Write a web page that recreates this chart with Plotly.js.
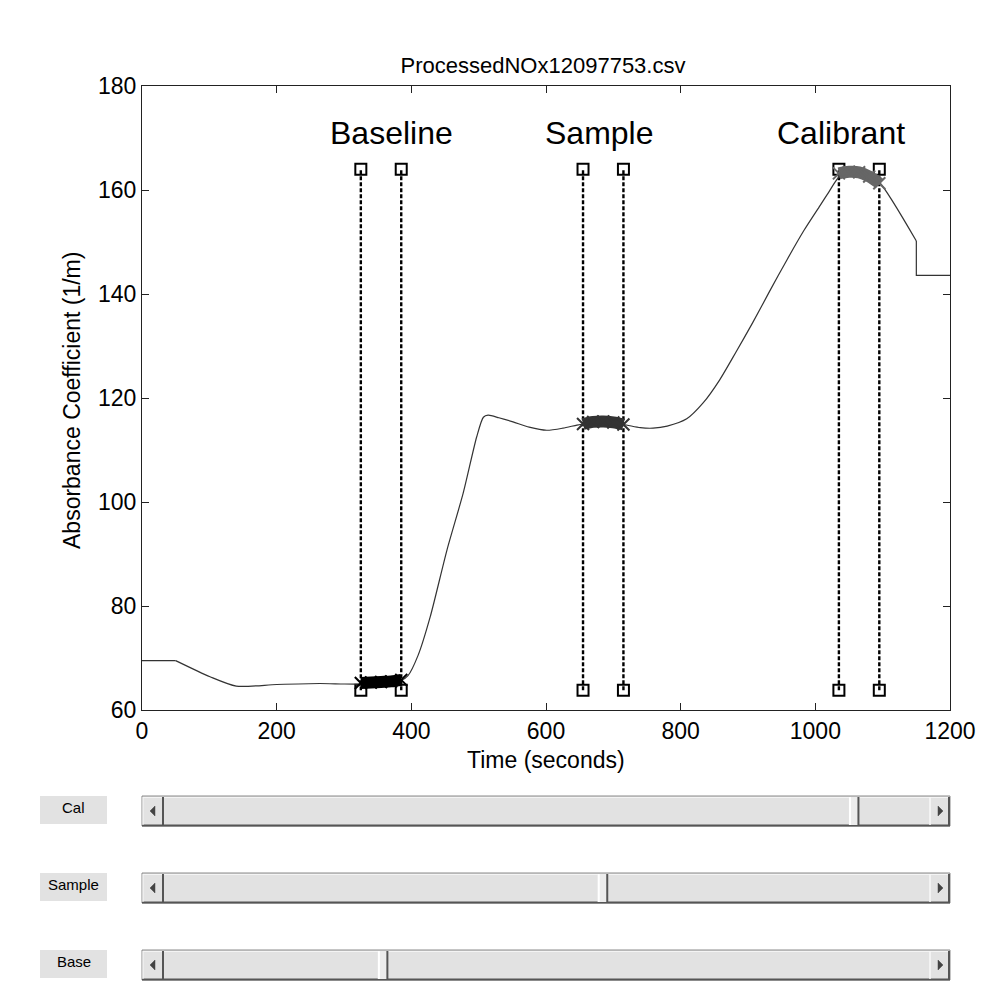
<!DOCTYPE html>
<html>
<head>
<meta charset="utf-8">
<script src="https://cdn.plot.ly/plotly-3.0.1.min.js"></script>
<style>html,body{margin:0;padding:0;background:#fff;}#chart{width:995px;height:1006px;}</style>
</head>
<body>
<div id="chart"></div>
<script>
// ---- data ----
const chartTitle = "ProcessedNOx12097753.csv";
const xTitle = "Time (seconds)";
const yTitle = "Absorbance Coefficient (1/m)";
const xTicks = [0, 200, 400, 600, 800, 1000, 1200];
const yTicks = [60, 80, 100, 120, 140, 160, 180];

// flat start, smooth middle section, step at the end
const startT = [0, 50];
const startA = [69.5, 69.5];
const time = [50, 101, 140, 200, 264, 300, 325, 355, 385, 395, 410, 428, 453, 477, 497, 507, 514, 530, 551, 575, 601, 625, 646, 655, 685, 715, 740, 759, 780, 809, 833, 858, 882, 907, 932, 958, 983, 1007, 1020, 1034, 1050, 1065, 1080, 1095, 1150];
const absorb = [69.5, 66.4, 64.6, 64.9, 65.1, 65.0, 65.0, 65.3, 65.7, 66.6, 70.5, 77.9, 90.8, 101.7, 112.5, 116.3, 116.7, 116.2, 115.4, 114.4, 113.8, 114.2, 114.8, 115.0, 115.3, 114.9, 114.3, 114.2, 114.6, 116.0, 119.0, 123.5, 128.8, 134.5, 140.5, 146.6, 152.2, 157.0, 159.6, 162.3, 163.4, 163.3, 162.6, 161.5, 150.2];
const endT = [1150, 1150, 1200];
const endA = [150.2, 143.6, 143.6];

const baselineT = [325, 340, 355, 370, 385];
const baselineA = [65.2, 65.3, 65.4, 65.5, 65.8];
const sampleT = [655, 670, 685, 700, 715];
const sampleA = [115.0, 115.4, 115.5, 115.3, 114.9];
const calT = [1035, 1050, 1065, 1080, 1095];
const calA = [163.2, 163.5, 163.4, 162.6, 161.3];

const windowEdges = [325, 385, 655, 715, 1035, 1095];
const markerLow = 63.8;
const markerHigh = 164.0;

const labelNames = ["Baseline", "Sample", "Calibrant"];
const labelX = [371, 680, 1038];
const labelY = [171, 171, 171];

const sliderNames = ["Cal", "Sample", "Base"];
const sliderValues = [1081, 688, 344]; // seconds, on 0..1200 scale

// ---- layout helpers (pixel -> paper) ----
const W = 995, H = 1006;
const fx = p => p / W;
const fy = p => 1 - p / H;
const plotL = 142, plotR = 950, plotT = 86, plotB = 710;

const traces = [];
// dashed window lines with square end markers
windowEdges.forEach(x => {
  traces.push({
    x: [x, x], y: [markerLow, markerHigh], mode: 'lines+markers', type: 'scatter',
    line: {color: '#000', width: 2.4, dash: '4px,2px'},
    marker: {symbol: 'square-open', size: 11, color: '#000', line: {width: 2, color: '#000'}},
    hoverinfo: 'skip', showlegend: false
  });
});
// main curve
traces.push({x: startT, y: startA, mode: 'lines', type: 'scatter', line: {color: '#333', width: 1.2}, showlegend: false});
traces.push({x: time, y: absorb, mode: 'lines', type: 'scatter',
  line: {color: '#333', width: 1.2, shape: 'spline', smoothing: 0.7}, showlegend: false});
traces.push({x: endT, y: endA, mode: 'lines', type: 'scatter', line: {color: '#333', width: 1.2}, showlegend: false});
// highlighted windows
[[baselineT, baselineA, '#000'], [sampleT, sampleA, '#333'], [calT, calA, '#666']].forEach(([tx, ty, c]) => {
  traces.push({x: tx, y: ty, mode: 'lines+markers', type: 'scatter',
    line: {color: c, width: 12, shape: 'spline'},
    marker: {symbol: 'x-thin', size: 12, color: c, line: {width: 2, color: c}},
    showlegend: false});
});

const font = "Liberation Sans, Arial, sans-serif";
const annotations = [];
labelNames.forEach((n, i) => annotations.push({
  x: labelX[i], y: labelY[i], xref: 'x', yref: 'y', text: n, showarrow: false,
  font: {family: font, size: 32, color: '#000'}, xanchor: 'center', yanchor: 'middle'
}));
annotations.push({x: fx((plotL + plotR) / 2), y: fy(760), xref: 'paper', yref: 'paper', text: xTitle,
  showarrow: false, font: {family: font, size: 23, color: '#000'}, xanchor: 'center', yanchor: 'middle'});
annotations.push({x: fx(72), y: fy(401), xref: 'paper', yref: 'paper', text: yTitle,
  showarrow: false, textangle: -90, font: {family: font, size: 23, color: '#000'}, xanchor: 'center', yanchor: 'middle'});

// sliders (UI chrome)
const shapes = [];
const rowTops = [796, 873, 950];
const rowH = 30;
const trackL = 163, trackR = 930;
const rect = (x0, y0, x1, y1, fill, lc, lw) => ({type: 'rect', xref: 'paper', yref: 'paper',
  x0: fx(x0), x1: fx(x1), y0: fy(y1), y1: fy(y0), fillcolor: fill, line: {color: lc || 'rgba(0,0,0,0)', width: lw || 0}, layer: 'above'});
const line = (x0, y0, x1, y1, c, w) => ({type: 'line', xref: 'paper', yref: 'paper',
  x0: fx(x0), x1: fx(x1), y0: fy(y0), y1: fy(y1), line: {color: c, width: w}, layer: 'above'});
const tri = (pts, c) => ({type: 'path', xref: 'paper', yref: 'paper',
  path: 'M' + pts.map(p => fx(p[0]) + ',' + fy(p[1])).join(' L') + ' Z', fillcolor: c, line: {color: c, width: 0.5}, layer: 'above'});

sliderNames.forEach((n, i) => {
  const t = rowTops[i], b = t + rowH, m = t + rowH / 2;
  // label box
  shapes.push(rect(40, t, 107, b - 2, '#e2e2e2'));
  annotations.push({x: fx(73.5), y: fy(t + 11), xref: 'paper', yref: 'paper', text: n, showarrow: false,
    font: {family: "Liberation Sans Narrow, Arial Narrow, Liberation Sans, Arial", size: 15, color: '#000'},
    xanchor: 'center', yanchor: 'middle'});
  // track
  shapes.push(rect(plotL, t, plotR, b, '#e2e2e2', '#8a8a8a', 1));
  shapes.push(line(plotL, b - 0.5, plotR, b - 0.5, '#555', 2));
  shapes.push(line(plotL + 1, t + 1.5, plotR - 1, t + 1.5, '#f4f4f4', 1));
  // left button
  shapes.push(line(trackL, t + 1, trackL, b - 1, '#555', 2));
  shapes.push(line(plotL + 1, t + 1, plotL + 1, b - 1, '#f8f8f8', 1));
  shapes.push(tri([[150, m], [155, m - 5], [155, m + 5]], '#444'));
  // right button
  shapes.push(line(trackR, t + 1, trackR, b - 1, '#f8f8f8', 1.5));
  shapes.push(line(plotR - 1, t + 1, plotR - 1, b - 1, '#555', 2));
  shapes.push(tri([[943, m], [938, m - 5], [938, m + 5]], '#444'));
  // thumb
  const c = trackL + sliderValues[i] / 1200 * (trackR - trackL);
  shapes.push(rect(c - 5, t + 1, c + 5, b - 1, '#ececec'));
  shapes.push(line(c - 4, t + 1, c - 4, b - 1, '#ffffff', 2));
  shapes.push(line(c + 4.5, t + 1, c + 4.5, b - 1, '#555', 2));
});

const axisCommon = {
  showline: true, linecolor: '#222', linewidth: 1, mirror: 'ticks', ticks: 'inside', ticklen: 7,
  tickcolor: '#222', tickwidth: 1, showgrid: false, zeroline: false,
  tickfont: {family: font, size: 23, color: '#000'}
};

const layout = {
  width: W, height: H, margin: {l: 0, r: 0, t: 0, b: 0},
  paper_bgcolor: '#fff', plot_bgcolor: '#fff',
  title: {text: chartTitle, x: fx(543), y: fy(65), xref: 'paper', yref: 'paper', xanchor: 'center', yanchor: 'middle',
    font: {family: font, size: 22, color: '#000'}},
  xaxis: Object.assign({}, axisCommon, {domain: [fx(plotL), fx(plotR)], range: [0, 1200],
    tickvals: xTicks, ticktext: xTicks.map(String)}),
  yaxis: Object.assign({}, axisCommon, {domain: [fy(plotB), fy(plotT)], range: [60, 180],
    tickvals: yTicks, ticktext: yTicks.map(String)}),
  annotations: annotations, shapes: shapes, showlegend: false
};

Plotly.newPlot('chart', traces, layout, {staticPlot: true, displayModeBar: false});
</script>
</body>
</html>
